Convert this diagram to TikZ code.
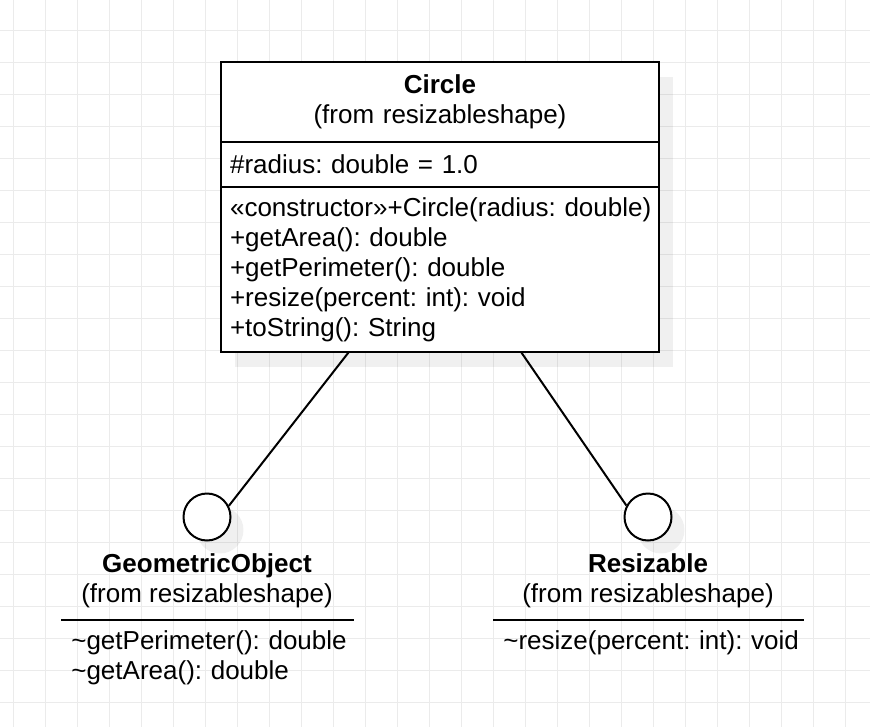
\documentclass[tikz,border=0pt]{standalone}
\usepackage{fontspec}
\setmainfont{Liberation Sans}
\usepackage{tikz}
\usetikzlibrary{positioning,calc,shadows}
\frenchspacing
\hyphenpenalty=10000

\begin{document}
\begin{tikzpicture}[
  x=0.02cm, y=-0.02cm,
  font=\fontsize{14.8pt}{17.07pt}\selectfont,
  gridline/.style={draw=black!8, line width=0.02cm},
  classpart/.style={rectangle, draw, line width=0.04cm, fill=white, outer sep=0pt,
    inner xsep=0.18cm, inner ysep=0.2cm, text width=8.4cm},
  boxshadow/.style={drop shadow={shadow xshift=0.28cm, shadow yshift=-0.3cm, fill=black, opacity=0.06}},
  iface/.style={circle, draw, line width=0.04cm, fill=white, minimum size=0.94cm, inner sep=0pt,
    drop shadow={shadow xshift=0.26cm, shadow yshift=-0.26cm, fill=black, opacity=0.06}},
  ifacelabel/.style={align=center, inner sep=0pt},
  members/.style={inner sep=0.2cm, align=left},
  link/.style={draw, line width=0.04cm}
]
\useasboundingbox (0,0) rectangle (870,727);
\fill[white] (0,0) rectangle (870,727);
\foreach \gx in {13,45,...,870}
  \draw[gridline] (\gx,0) -- (\gx,727);
\foreach \gy in {30,62,...,727}
  \draw[gridline] (0,\gy) -- (870,\gy);

% class
\node[classpart, boxshadow, align=center, minimum height=1.6cm] (circle-name) at (440,102)
  {\textbf{Circle}\\(from resizableshape)};
\node[classpart, boxshadow, align=left, minimum height=0.9cm, below=0pt of circle-name] (circle-attr)
  {\#radius: double = 1.0};
\node[classpart, boxshadow, align=left, minimum height=3.3cm, below=0pt of circle-attr] (circle-ops)
  {\mbox{«constructor»+Circle(radius: double)}\\
   +getArea(): double\\
   +getPerimeter(): double\\
   +resize(percent: int): void\\
   +toString(): String};

% interfaces
\node[iface] (geo) at (207,517) {};
\node[ifacelabel] (geo-name) at (207,581) {\textbf{GeometricObject}\\(from resizableshape)};
\node[members, anchor=north west, text width=5.44cm] (geo-ops) at (61,620)
  {\mbox{\textasciitilde getPerimeter(): double}\\\textasciitilde getArea(): double};
\draw[link] (geo-ops.north west) -- (geo-ops.north east);

\node[iface] (res) at (648,517) {};
\node[ifacelabel] (res-name) at (648,581) {\textbf{Resizable}\\(from resizableshape)};
\node[members, anchor=north west, text width=5.8cm] (res-ops) at (493,620)
  {\mbox{\textasciitilde resize(percent: int): void}};
\draw[link] (res-ops.north west) -- (res-ops.north east);

\draw[link] ($(circle-ops.south west)!0.292!(circle-ops.south east)$) -- (geo.27);
\draw[link] ($(circle-ops.south west)!0.685!(circle-ops.south east)$) -- (res.152);

\end{tikzpicture}
\end{document}
